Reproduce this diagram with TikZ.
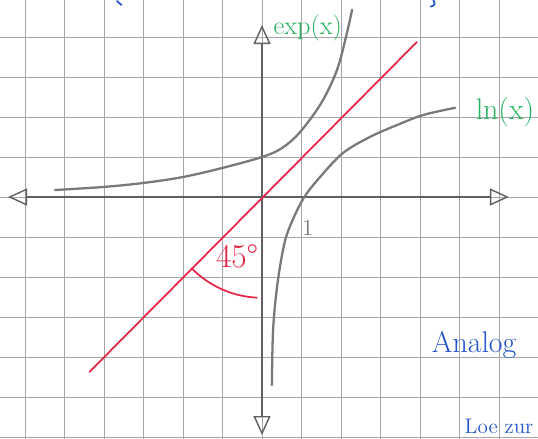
\documentclass[tikz,border=0pt]{standalone}
\usepackage{tikz}
\usetikzlibrary{arrows.meta}

\definecolor{gridgray}{RGB}{165,165,165}
\definecolor{pencil}{RGB}{120,120,125}
\definecolor{redpen}{RGB}{228,38,72}
\definecolor{greenpen}{RGB}{40,180,95}
\definecolor{bluepen}{RGB}{35,85,205}

\tikzset{
  gridline/.style={draw=gridgray, line width=0.5pt},
  axis/.style={draw=pencil!80!black, line width=0.8pt,
    arrows={Triangle[open, length=0.38cm, width=0.34cm]-Triangle[open, length=0.38cm, width=0.34cm]}},
  curve/.style={draw=pencil, line width=1.3pt, line cap=round},
  redline/.style={draw=redpen, line width=1pt, line cap=round},
  greenlabel/.style={text=greenpen, inner sep=0pt},
  bluelabel/.style={text=bluepen, inner sep=0pt},
}

\begin{document}
\begin{tikzpicture}[x=0.79cm, y=0.8cm]
  \useasboundingbox (-6.633,-6.025) rectangle (6.987,4.925);
  \clip (-6.633,-6.025) rectangle (6.987,4.925);

  % Graph paper
  \fill[white] (-6.633,-6.025) rectangle (6.987,4.925);
  \foreach \i in {-6,...,7} \draw[gridline] (\i,-6.2) -- (\i,5);
  \foreach \j in {-6,...,4} \draw[gridline] (-6.7,\j) -- (7.1,\j);

  % Axes
  \coordinate (O) at (0,0);
  \coordinate (xl) at (-6.43,0);
  \coordinate (xr) at (6.25,0);
  \coordinate (yt) at (0,4.3);
  \coordinate (yb) at (0,-5.95);
  \draw[axis] (xl) -- (xr);
  \draw[axis] (yb) -- (yt);

  % y = x
  \coordinate (r1) at (-4.37,-4.375);
  \coordinate (r2) at (3.92,3.875);
  \draw[redline] (r1) -- (r2);
  \draw[redline] (O) ++(225:2.52) arc[start angle=225, end angle=267, radius=2.52];
  \node[text=redpen, font=\fontsize{19}{19}\selectfont, inner sep=0pt] (angle) at (-0.63,-1.48) {45\textdegree};

  % exp(x)
  \draw[curve] plot[smooth, tension=0.55] coordinates {(-5.24,0.175) (-4.03,0.25) (-3.01,0.35)
    (-2.0,0.5) (-0.99,0.73) (0,1.0) (0.5,1.22) (0.96,1.62) (1.5,2.35) (1.9,3.18) (2.15,4.1) (2.28,4.68)};
  \node[greenlabel, font=\fontsize{15}{15}\selectfont] (explab) at (1.16,4.225) {exp(x)};

  % ln(x)
  \draw[curve] plot[smooth, tension=0.55] coordinates {(0.25,-4.7) (0.28,-3.33) (0.38,-2.25)
    (0.53,-1.33) (0.68,-0.8) (1.04,-0.05) (1.47,0.5) (2.05,1.1) (2.73,1.5) (3.42,1.8) (4.08,2.05) (4.89,2.23)};
  \node[greenlabel, font=\fontsize{17}{17}\selectfont] (lnlab) at (6.15,2.125) {ln(x)};
  \node[text=pencil, font=\fontsize{13}{13}\selectfont, inner sep=0pt] (one) at (1.16,-0.78) {1};

  % Notes in the margin
  \node[bluelabel, font=\fontsize{17}{17}\selectfont] (analog) at (5.37,-3.7) {Analog};
  \node[bluelabel, font=\fontsize{12}{12}\selectfont] (loezur) at (6.0,-5.74) {Loe zur};
  \draw[bluepen, line width=1pt, line cap=round] (-3.67,4.9) -- (-3.56,4.8);
  \draw[bluepen, line width=1pt, line cap=round] (4.33,4.95) .. controls (4.39,4.8) .. (4.27,4.76);
\end{tikzpicture}
\end{document}
